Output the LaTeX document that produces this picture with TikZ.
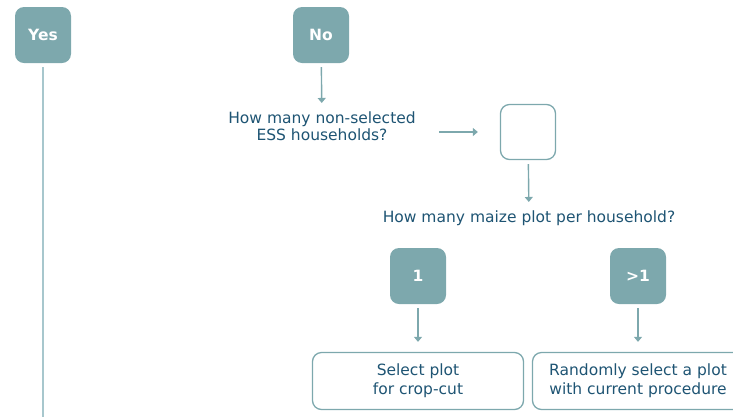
\documentclass[tikz,border=0pt]{standalone}
\usepackage{fontspec}
\setmainfont{DejaVu Sans}
\usetikzlibrary{arrows.meta, positioning}
\definecolor{tealbox}{HTML}{7DA8AD}
\definecolor{tealtext}{HTML}{1E5473}
\definecolor{tealline}{HTML}{A7C7CD}

\begin{document}
\begin{tikzpicture}[
    x=1pt, y=-1pt,
    every node/.style={font=\fontsize{15.5}{17}\selectfont, text=tealtext},
    tag/.style={fill=tealbox, rounded corners=9pt, minimum width=56pt, minimum height=56pt,
                text=white, font=\fontsize{15.5}{17}\selectfont\bfseries},
    emptybox/.style={draw=tealbox, line width=1.3pt, rounded corners=9pt,
                     minimum width=55pt, minimum height=55pt},
    actbox/.style={draw=tealbox, line width=1.3pt, rounded corners=9pt, align=center,
                   minimum width=211pt, minimum height=57pt,
                   font=\fontsize{15.5}{19}\selectfont},
    ask/.style={align=center},
    arr/.style={-{Triangle[length=5pt, width=8pt]}, draw=tealbox, line width=1.4pt,
                shorten <=4pt, shorten >=5pt},
]
\clip (0,0) rectangle (733,416);

\node[tag]      (yes)   at (43,35)   {Yes};
\node[tag]      (no)    at (321,35)  {No};
\node[ask]      (hhq)   at (322,126) {How many non-selected\\ESS households?};
\node[emptybox] (hhn)   at (528,132) {};
\node[ask]      (plotq) at (529,218) {How many maize plot per household?};
\node[tag]      (one)   at (418,276) {1};
\node[tag]      (many)  at (638,276) {>1};
\node[actbox]   (sel)   at (418,381) {Select plot\\for crop-cut};
\node[actbox]   (rand)  at (638,381) {Randomly select a plot\\with current procedure};

\coordinate (yesend) at (43,420);
\draw[tealline, line width=1.6pt, shorten <=4pt] (yes) -- (yesend);

\draw[arr] (no) -- (hhq);
\draw[arr, shorten <=20pt, shorten >=22pt] (hhq.east |- hhn.west) -- (hhn.west);
\draw[arr] (hhn) -- (plotq);
\draw[arr, shorten >=10pt] (one) -- (sel);
\draw[arr, shorten >=10pt] (many) -- (rand);
\end{tikzpicture}
\end{document}
